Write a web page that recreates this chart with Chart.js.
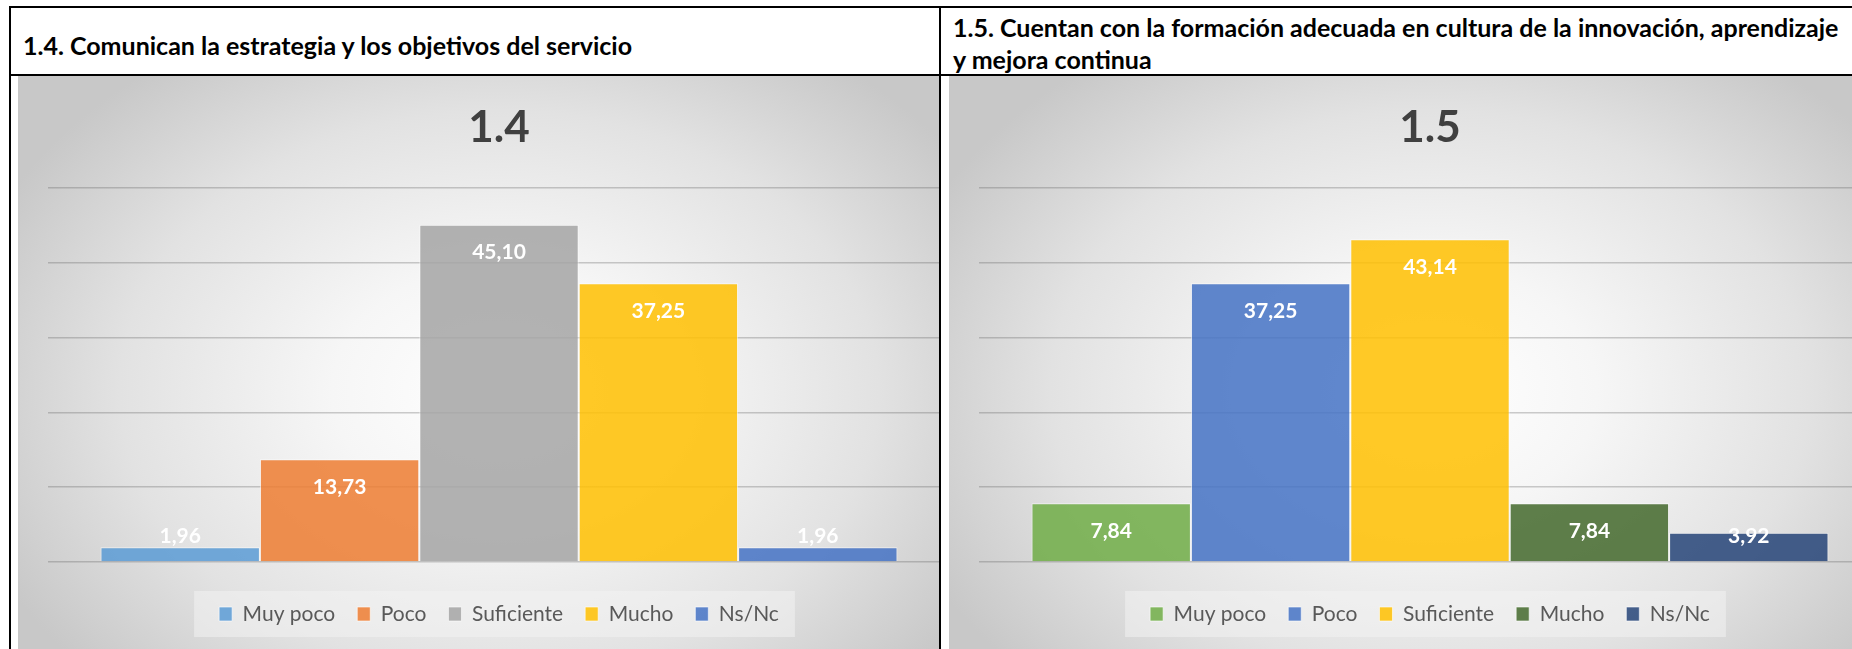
<!DOCTYPE html>
<html>
<head>
<meta charset="utf-8">
<script src="https://cdn.jsdelivr.net/npm/chart.js@4.4.1/dist/chart.umd.min.js"></script>
<style>
  html, body { margin: 0; padding: 0; background: #fff; width: 1852px; height: 649px; overflow: hidden; font-family: Lato, "Open Sans", sans-serif; }
  .line { position: absolute; background: #000; }
  .head { position: absolute; font-weight: 700; font-size: 25px; color: #000; white-space: nowrap; line-height: 32px; }
  .cell { position: absolute; overflow: hidden; }
  .chart { position: absolute; top: 0; width: 962px; height: 573px;
    background: radial-gradient(ellipse 58% 72% at 50% 55%, #ffffff 0%, #f6f6f6 30%, #e2e2e2 68%, #c8c8c8 100%); }
</style>
</head>
<body>
<div class="line" style="left:9px;top:6px;width:1843px;height:2px"></div>
<div class="line" style="left:9px;top:74px;width:1843px;height:2px"></div>
<div class="line" style="left:9px;top:6px;width:2px;height:643px"></div>
<div class="line" style="left:939px;top:6px;width:2px;height:643px"></div>

<div class="head" style="left:23px;top:29px">1.4. Comunican la estrategia y los objetivos del servicio</div>
<div class="head" style="left:953px;top:11px">1.5. Cuentan con la formación adecuada en cultura de la innovación, aprendizaje<br>y mejora continua</div>

<div class="cell" style="left:11px;top:76px;width:928px;height:573px">
  <div class="chart" style="left:7px"><canvas id="chart14"></canvas></div>
</div>
<div class="cell" style="left:941px;top:76px;width:911px;height:573px">
  <div class="chart" style="left:8px"><canvas id="chart15"></canvas></div>
</div>

<script>
// data
const categories = ['Muy poco', 'Poco', 'Suficiente', 'Mucho', 'Ns/Nc'];
const values14 = [1.96, 13.73, 45.10, 37.25, 1.96];
const values15 = [7.84, 37.25, 43.14, 7.84, 3.92];
const colors14 = ['rgba(91,155,213,0.85)', 'rgba(237,125,49,0.85)', 'rgba(165,165,165,0.85)', 'rgba(255,192,0,0.85)', 'rgba(68,114,196,0.85)'];
const colors15 = ['rgba(112,173,71,0.85)', 'rgba(68,114,196,0.85)', 'rgba(255,192,0,0.85)', 'rgba(67,104,43,0.85)', 'rgba(38,68,120,0.85)'];
const yTicks = [0, 10, 20, 30, 40, 50];

// white value labels near the top of each bar
const valueLabels = {
    id: 'valueLabels',
    afterDatasetsDraw(chart) {
        const ctx = chart.ctx;
        ctx.save();
        ctx.font = 'bold 21px Lato';
        ctx.fillStyle = '#fff';
        ctx.textAlign = 'center';
        ctx.textBaseline = 'middle';
        chart.data.datasets.forEach((ds, i) => {
            const bar = chart.getDatasetMeta(i).data[0];
            const y = Math.min(bar.y + 28, bar.base - 25);
            ctx.fillText(ds.data[0].toFixed(2).replace('.', ','), bar.x, y);
        });
        ctx.restore();
    }
};

// soft box behind the legend
const legendBox = {
    id: 'legendBox',
    beforeDraw(chart) {
        const boxes = chart.legend.legendHitBoxes;
        if (!boxes || !boxes.length) return;
        const left = boxes[0].left - 25;
        const right = boxes[boxes.length - 1].left + boxes[boxes.length - 1].width + 16;
        const mid = boxes[0].top + boxes[0].height / 2;
        const ctx = chart.ctx;
        ctx.save();
        ctx.fillStyle = 'rgba(242,242,242,0.55)';
        ctx.fillRect(left, mid - 23, right - left, 46);
        ctx.restore();
    }
};

function makeChart(id, title, values, colors) {
    const datasets = categories.map((name, i) => ({
        label: name,
        data: [values[i]],
        backgroundColor: colors[i],
        borderColor: 'rgba(255,255,255,0.6)',
        borderWidth: 1,
        categoryPercentage: 0.8836,
        barPercentage: 1
    }));

    return new Chart(document.getElementById(id), {
        type: 'bar',
        data: { labels: [''], datasets: datasets },
        options: {
            responsive: true,
            maintainAspectRatio: false,
            animation: false,
            layout: { padding: { top: 0, bottom: 14.5, left: 30, right: 30 } },
            scales: {
                x: {
                    grid: { display: false },
                    border: { display: false },
                    ticks: { display: false },
                    afterFit: function(scale) { scale.height = 19.5; }
                },
                y: {
                    min: yTicks[0],
                    max: yTicks[yTicks.length - 1],
                    afterBuildTicks: function(scale) { scale.ticks = yTicks.map(v => ({ value: v })); },
                    ticks: { display: false },
                    border: { display: false },
                    grid: { color: 'rgba(90,90,90,0.3)', lineWidth: 1.5, drawTicks: false }
                }
            },
            plugins: {
                title: {
                    display: true,
                    text: title,
                    color: '#404040',
                    font: { family: 'Lato', size: 44, weight: 'bold' },
                    padding: { top: 25, bottom: 34.2 }
                },
                legend: {
                    position: 'bottom',
                    labels: {
                        color: '#595959',
                        font: { family: 'Lato', size: 21 },
                        boxWidth: 13,
                        boxHeight: 14,
                        padding: 22
                    }
                },
                tooltip: { enabled: false }
            }
        },
        plugins: [legendBox, valueLabels]
    });
}

makeChart('chart14', '1.4', values14, colors14);
makeChart('chart15', '1.5', values15, colors15);
</script>
</body>
</html>
